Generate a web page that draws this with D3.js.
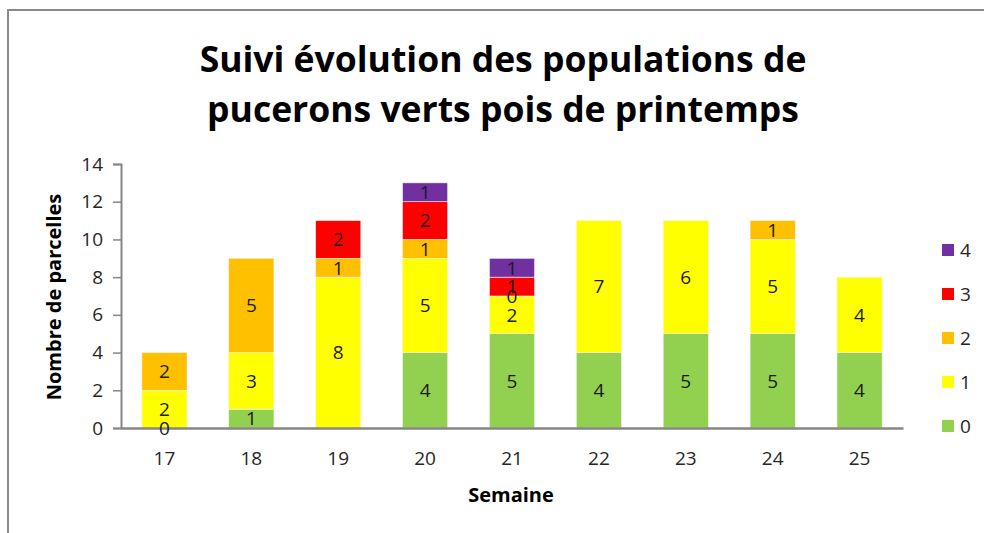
<!DOCTYPE html>
<html lang="fr">
<head>
  <meta charset="UTF-8">
  <title>Suivi évolution des populations de pucerons</title>
  <script src="https://cdn.jsdelivr.net/npm/d3@7"></script>
  <style>
    body { margin: 0; background: #fff; }
    text { font-family: "Open Sans", "Noto Sans", sans-serif; }
  </style>
</head>
<body>
  <div id="chart"></div>

  <script>
    // Data
    var weeks = ["17", "18", "19", "20", "21", "22", "23", "24", "25"];
    var seriesNames = ["0", "1", "2", "3", "4"];
    var colors = ["#92D050", "#FFFF00", "#FFC000", "#FF0000", "#7030A0"];
    // null = no value (no label)
    var level0 = [0, 1, null, 4, 5, 4, 5, 5, 4];
    var level1 = [2, 3, 8, 5, 2, 7, 6, 5, 4];
    var level2 = [2, 5, 1, 1, 0, null, null, 1, null];
    var level3 = [null, null, 2, 2, 1, null, null, null, null];
    var level4 = [null, null, null, 1, 1, null, null, null, null];
    var yTicks = [0, 2, 4, 6, 8, 10, 12, 14];

    var series = [level0, level1, level2, level3, level4];

    var W = 984, H = 533;
    var svg = d3.select("#chart").append("svg")
      .attr("width", W)
      .attr("height", H);

    // outer frame (only top and left edges are visible)
    svg.append("path")
      .attr("d", "M8,533 L8,10 L984,10")
      .attr("fill", "none")
      .attr("stroke", "#8a8a8a")
      .attr("stroke-width", 2);

    // title
    var title = svg.append("text")
      .attr("text-anchor", "middle")
      .style("font-size", "35.5px")
      .style("font-weight", "bold")
      .attr("fill", "#000");
    title.append("tspan").attr("x", 503).attr("y", 72).text("Suivi évolution des populations de");
    title.append("tspan").attr("x", 503).attr("y", 122).text("pucerons verts pois de printemps");

    var x = d3.scaleBand()
      .domain(weeks)
      .range([121, 903])
      .paddingInner(0.48)
      .paddingOuter(0.24);

    var y = d3.scaleLinear()
      .domain([0, 14])
      .range([428, 164]);

    // stacked segments
    var rows = weeks.map(function (w, i) {
      var base = 0;
      return series.map(function (s, k) {
        var v = s[i];
        var seg = { week: w, k: k, v: v, y0: base, y1: base + (v || 0) };
        base = seg.y1;
        return seg;
      });
    });
    var segs = [].concat.apply([], rows);

    svg.append("g").selectAll("rect")
      .data(segs.filter(function (d) { return d.v; }))
      .join("rect")
      .attr("x", function (d) { return x(d.week); })
      .attr("y", function (d) { return y(d.y1); })
      .attr("width", x.bandwidth())
      .attr("height", function (d) { return y(d.y0) - y(d.y1); })
      .attr("fill", function (d) { return colors[d.k]; })
      .attr("stroke", "#f4f4f4")
      .attr("stroke-width", 0.6);

    // y axis
    var yAxis = svg.append("g")
      .attr("transform", "translate(121,0)")
      .call(d3.axisLeft(y).tickValues(yTicks).tickSize(8).tickPadding(10));
    yAxis.select(".domain").attr("stroke", "#868686").attr("stroke-width", 2);
    yAxis.selectAll(".tick line").attr("stroke", "#868686").attr("stroke-width", 1.5);
    yAxis.selectAll(".tick text")
      .style("font-size", "19px")
      .attr("fill", "#262626");

    // x axis
    var xAxis = svg.append("g")
      .attr("transform", "translate(0,428)")
      .call(d3.axisBottom(x).tickSize(0).tickPadding(24).tickSizeOuter(0));
    xAxis.select(".domain").attr("stroke", "#868686").attr("stroke-width", 2.5);
    xAxis.selectAll(".tick text")
      .style("font-size", "19px")
      .attr("fill", "#262626");

    // data labels
    svg.append("g").selectAll("text")
      .data(segs.filter(function (d) { return d.v !== null; }))
      .join("text")
      .attr("x", function (d) { return x(d.week) + x.bandwidth() / 2; })
      .attr("y", function (d) { return (y(d.y0) + y(d.y1)) / 2; })
      .attr("dy", "0.36em")
      .attr("text-anchor", "middle")
      .style("font-size", "19px")
      .attr("fill", "#1a1a1a")
      .text(function (d) { return d.v; });

    // axis titles
    svg.append("text")
      .attr("x", 511).attr("y", 502)
      .attr("text-anchor", "middle")
      .style("font-size", "20px")
      .style("font-weight", "bold")
      .text("Semaine");

    svg.append("text")
      .attr("transform", "translate(61,297) rotate(-90)")
      .attr("text-anchor", "middle")
      .style("font-size", "20px")
      .style("font-weight", "bold")
      .text("Nombre de parcelles");

    // legend (top to bottom: 4..0)
    var legend = svg.append("g").selectAll("g")
      .data(seriesNames.slice().reverse())
      .join("g")
      .attr("transform", function (d, i) { return "translate(942," + (250 + i * 44) + ")"; });
    legend.append("rect")
      .attr("x", 0).attr("y", -6)
      .attr("width", 12).attr("height", 12)
      .attr("fill", function (d) { return colors[+d]; });
    legend.append("text")
      .attr("x", 18).attr("dy", "0.36em")
      .style("font-size", "19px")
      .attr("fill", "#262626")
      .text(function (d) { return d; });
  </script>
</body>
</html>
